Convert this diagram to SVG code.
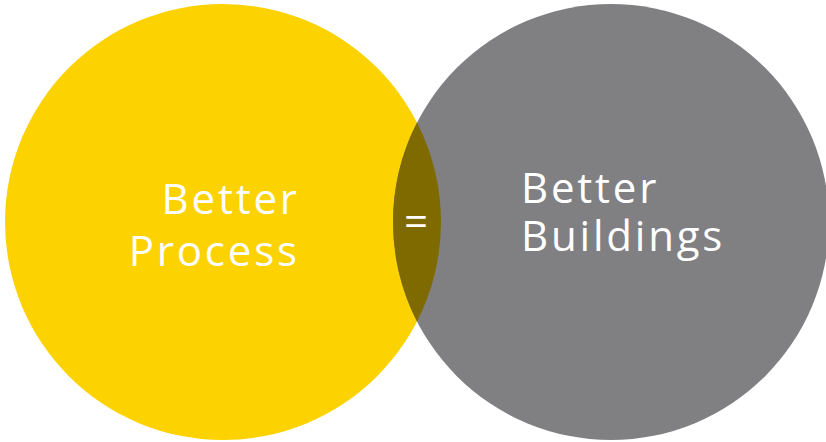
<svg xmlns="http://www.w3.org/2000/svg" width="826" height="442" viewBox="0 0 826 442">
<style>
.lbl{font-family:"Open Sans","Liberation Sans",sans-serif;font-weight:400;font-size:42px;fill:#ffffff;letter-spacing:2.8px}
</style>
<rect width="826" height="442" fill="#ffffff"/>
<g id="process">
<circle cx="223" cy="222" r="218" fill="#FCD200"/>
</g>
<g id="buildings">
<circle cx="611" cy="222" r="218" fill="#808083"/>
</g>
<g id="overlap">
<path d="M417 122.6 A218 218 0 0 1 417 321.4 A218 218 0 0 1 417 122.6 Z" fill="#7F6A00"/>
<text class="lbl" x="416" y="236" text-anchor="middle" style="letter-spacing:0">=</text>
</g>
<g id="process-label">
<text class="lbl" x="299.8" y="214" text-anchor="end">Better</text>
<text class="lbl" x="299.8" y="266" text-anchor="end">Process</text>
</g>
<g id="buildings-label">
<text class="lbl" x="521" y="203">Better</text>
<text class="lbl" x="521" y="251">Buildings</text>
</g>
</svg>
